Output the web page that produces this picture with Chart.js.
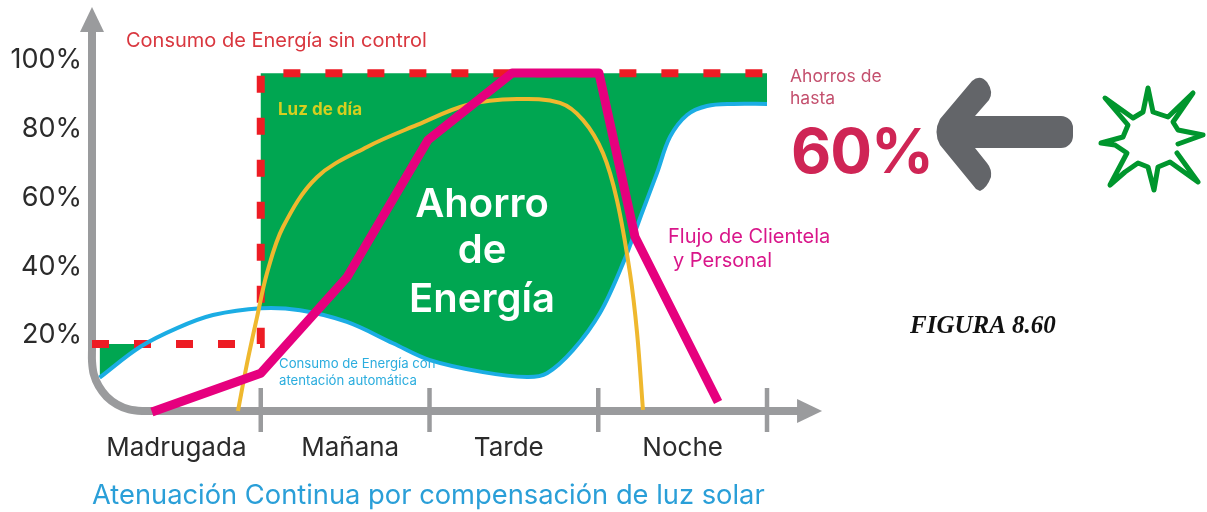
<!DOCTYPE html>
<html lang="es">
<head>
<meta charset="utf-8">
<title>Figura 8.60</title>
<script src="https://cdn.jsdelivr.net/npm/chart.js@4/dist/chart.umd.js"></script>
<style>
  html, body { margin: 0; padding: 0; background: #fff; }
  canvas { display: block; }
</style>
</head>
<body>
<canvas id="chart" width="1207" height="512"></canvas>
<script>
const periods = ['Madrugada', 'Mañana', 'Tarde', 'Noche'];
const periodPos = [0.5, 1.53, 2.47, 3.5];
const periodEdges = [1, 2, 3, 4];
const yTicks = [20, 40, 60, 80, 100];

// x is in periods since the start of the night, y is percent
const sinControlX = [0, 1, 1, 4];
const sinControlY = [17.5, 17.5, 96.2, 96.2];

const consumoX = [0.045, 0.284, 0.504, 0.717, 1.0, 1.233, 1.511, 1.784, 2.003, 2.317, 2.578, 2.696, 2.85, 3.01, 3.147, 3.265, 3.348, 3.425, 3.526, 3.644, 3.799, 4];
const consumoY = [7.7, 16.6, 22.1, 25.9, 27.9, 27.3, 23.9, 17.7, 12.8, 9.3, 7.9, 9.0, 15.7, 26.5, 41.0, 56.4, 67.2, 77.7, 84.1, 86.7, 87.3, 87.3];

const luzX = [0.865, 0.919, 0.978, 1.037, 1.132, 1.333, 1.63, 1.926, 2.222, 2.519, 2.773, 2.91, 3.028, 3.111, 3.188, 3.23, 3.265];
const luzY = [-2, 11.9, 25.3, 38.1, 51.5, 66.0, 74.8, 81.2, 87.0, 88.7, 87.6, 82.6, 73.0, 59.3, 38.1, 20.7, -1.7];

const flujoX = [0.355, 1, 1.511, 1.991, 2.49, 3.004, 3.218, 3.71];
const flujoY = [-2.3, 9.0, 36.9, 76.8, 96.3, 96.3, 48.6, 0.6];

// the grey axis is one line with a rounded corner
const ejeX = [0, 0, 0, 0.0102, 0.0397, 0.0865, 0.1481, 0.2199, 0.2963, 0.37, 4.19];
const ejeY = [108.8, 16, 12.5, 8.76, 5.24, 2.2, -0.09, -1.54, -2, -2, -2];

const toPoints = (xs, ys) => xs.map((x, i) => ({ x, y: ys[i] }));

const GREY = '#9a9b9d';
const FONT = 'Inter, "Open Sans", sans-serif';

const labels = [
  ['Consumo de Energía sin control', 126, 47, `400 20px ${FONT}`, '#d9373f'],
  ['Luz de día', 278, 115, `700 17px ${FONT}`, '#d6cf1f'],
  ['Flujo de Clientela', 668, 243, `400 20px ${FONT}`, '#d9168a'],
  ['y Personal', 673, 267, `400 20px ${FONT}`, '#d9168a'],
  ['Consumo de Energía con', 279, 368, `400 13.2px ${FONT}`, '#2badde'],
  ['atentación automática', 279, 385, `400 13.2px ${FONT}`, '#2badde'],
  ['Ahorros de', 790, 82, `400 17.5px ${FONT}`, '#c4506e'],
  ['hasta', 790, 104, `400 17.5px ${FONT}`, '#c4506e'],
  ['FIGURA 8.60', 910, 333, 'italic 700 25px "Liberation Serif", serif', '#111']
];
const centerLabels = [
  ['Ahorro', 482, 217],
  ['de', 482, 263],
  ['Energía', 482, 312]
];

function drawArrow(ctx) {
  ctx.save();
  ctx.fillStyle = '#636569';
  ctx.beginPath();
  ctx.moveTo(975, 116);
  ctx.lineTo(1061, 116);
  ctx.arcTo(1073, 116, 1073, 128, 12);
  ctx.lineTo(1073, 136);
  ctx.arcTo(1073, 148, 1061, 148, 12);
  ctx.lineTo(975, 148);
  ctx.lineTo(987, 163);
  ctx.quadraticCurveTo(992, 169, 991, 177);
  ctx.quadraticCurveTo(987, 188, 980, 191);
  ctx.lineTo(976, 189);
  ctx.lineTo(940, 145);
  ctx.quadraticCurveTo(933, 132, 940, 119);
  ctx.lineTo(972, 81);
  ctx.quadraticCurveTo(980, 74, 987, 82);
  ctx.quadraticCurveTo(994, 92, 989, 100);
  ctx.closePath();
  ctx.fill();
  ctx.restore();
}

function drawStar(ctx) {
  const outline = [[1177, 153], [1198, 182], [1170, 162], [1158, 167], [1154, 190], [1148, 167], [1138, 163], [1125, 172],
    [1110, 185], [1127, 153], [1115, 145], [1101, 143], [1123, 137], [1128, 125], [1105, 98], [1133, 118], [1143, 112],
    [1148, 88], [1153, 112], [1168, 117], [1193, 93], [1173, 122], [1178, 130], [1203, 135], [1178, 144]];
  ctx.save();
  ctx.strokeStyle = '#00962d';
  ctx.lineWidth = 5;
  ctx.lineJoin = 'round';
  ctx.lineCap = 'round';
  ctx.beginPath();
  outline.forEach(([x, y], i) => (i ? ctx.lineTo(x, y) : ctx.moveTo(x, y)));
  ctx.stroke();
  ctx.restore();
}

const figureDecor = {
  id: 'figureDecor',
  afterDatasetsDraw(chart) {
    const { ctx, scales: { x, y } } = chart;
    ctx.save();

    // marks between periods
    ctx.strokeStyle = GREY;
    ctx.lineWidth = 4.5;
    periodEdges.forEach(v => {
      const px = x.getPixelForValue(v);
      ctx.beginPath();
      ctx.moveTo(px, y.getPixelForValue(-2) - 23);
      ctx.lineTo(px, y.getPixelForValue(-2) + 21);
      ctx.stroke();
    });

    // arrow heads
    ctx.fillStyle = GREY;
    const top = y.getPixelForValue(108.8);
    const left = x.getPixelForValue(0);
    ctx.beginPath();
    ctx.moveTo(left, top - 23);
    ctx.lineTo(left + 12, top + 2);
    ctx.lineTo(left - 12, top + 2);
    ctx.closePath();
    ctx.fill();
    const end = x.getPixelForValue(4.19);
    const base = y.getPixelForValue(-2);
    ctx.beginPath();
    ctx.moveTo(end + 23, base);
    ctx.lineTo(end - 2, base - 12);
    ctx.lineTo(end - 2, base + 12);
    ctx.closePath();
    ctx.fill();

    ctx.textBaseline = 'alphabetic';
    labels.forEach(([text, px, py, font, color]) => {
      ctx.font = font;
      ctx.fillStyle = color;
      ctx.fillText(text, px, py);
    });
    ctx.save();
    ctx.letterSpacing = '-1px';
    ctx.font = `700 62px ${FONT}`;
    ctx.fillStyle = '#cf2555';
    ctx.fillText('60%', 791, 173);
    ctx.restore();
    ctx.textAlign = 'center';
    ctx.font = `600 40px ${FONT}`;
    ctx.fillStyle = '#fff';
    centerLabels.forEach(([text, px, py]) => ctx.fillText(text, px, py));
    ctx.restore();

    drawArrow(ctx);
    drawStar(ctx);
  }
};

new Chart(document.getElementById('chart'), {
  type: 'line',
  plugins: [figureDecor],
  data: {
    // first dataset ends up on top
    datasets: [
      { label: 'Flujo de Clientela y Personal', data: toPoints(flujoX, flujoY), borderColor: '#e6007e', borderWidth: 9, borderJoinStyle: 'round' },
      { label: 'Luz de día', data: toPoints(luzX, luzY), borderColor: '#efb82e', borderWidth: 4, tension: 0.35 },
      { label: 'Consumo de Energía con atenuación automática', data: toPoints(consumoX, consumoY), borderColor: '#1bade4', borderWidth: 4, tension: 0.35 },
      {
        label: 'Consumo de Energía sin control',
        data: toPoints(sinControlX, sinControlY),
        borderColor: '#ed1c24',
        borderWidth: 8,
        borderDash: [17, 25],
        borderCapStyle: 'butt',
        fill: { target: 2, above: '#00a651', below: 'rgba(0,0,0,0)' }
      },
      { label: 'Eje', data: toPoints(ejeX, ejeY), borderColor: GREY, borderWidth: 8, tension: 0.3, borderJoinStyle: 'round' }
    ]
  },
  options: {
    responsive: false,
    animation: false,
    clip: false,
    layout: { padding: { left: 0, top: 8, right: 387, bottom: 0 } },
    elements: { point: { radius: 0 }, line: { tension: 0, capBezierPoints: false } },
    plugins: { legend: { display: false }, tooltip: { enabled: false } },
    scales: {
      x: {
        type: 'linear',
        min: 0,
        max: 4.314,
        afterFit: s => { s.height = 101; s.paddingLeft = 0; s.paddingRight = 0; },
        afterBuildTicks: s => { s.ticks = periodPos.map(value => ({ value })); },
        border: { display: false },
        grid: { display: false },
        ticks: {
          autoSkip: false,
          maxRotation: 0,
          padding: 14,
          color: '#2b2b2b',
          font: { family: FONT, size: 26 },
          callback: (v, i) => periods[i]
        },
        title: {
          display: true,
          align: 'start',
          text: 'Atenuación Continua por compensación de luz solar',
          color: '#2a9fd8',
          font: { family: FONT, size: 27.3 },
          padding: { top: 0, bottom: 0 }
        }
      },
      y: {
        type: 'linear',
        min: -2,
        max: 115.2,
        afterFit: s => { s.width = 92; s.paddingTop = 0; s.paddingBottom = 0; },
        afterBuildTicks: s => { s.ticks = yTicks.map(value => ({ value })); },
        border: { display: false },
        grid: { display: false },
        ticks: {
          padding: 2,
          color: '#2b2b2b',
          font: { family: FONT, size: 27 },
          callback: v => v + '%'
        }
      }
    }
  }
});
</script>
</body>
</html>
